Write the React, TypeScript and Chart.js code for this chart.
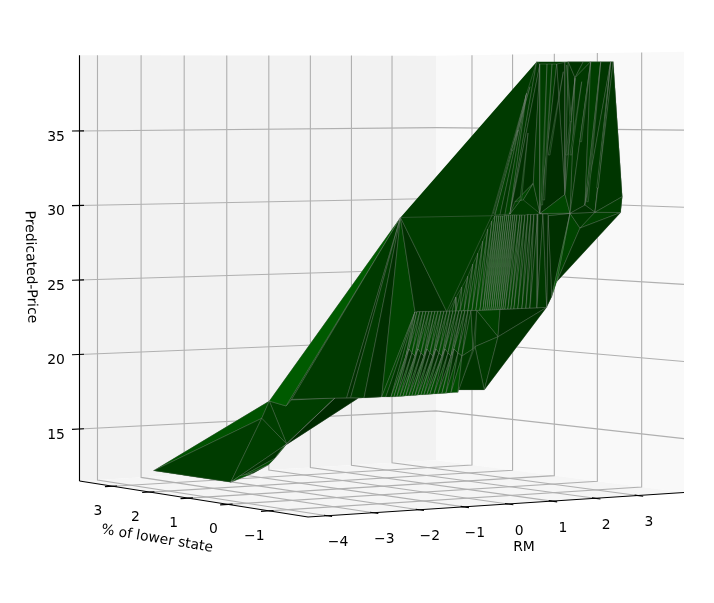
import React, { useEffect, useRef } from "react";
import { Chart, registerables } from "chart.js";
Chart.register(...registerables);

const W = 714, H = 603;
const rmLimits = [-4.409, 4.097];
const lstatLimits = [-1.928, 3.911];
const priceLimits = [11.51, 40.08];
const rmTicks = [-4, -3, -2, -1, 0, 1, 2, 3];
const lstatTicks = [-1, 0, 1, 2, 3];
const priceTicks = [15, 20, 25, 30, 35];

const rmValues = [
  -3.183,-1.786,-1.879,-1.591,-1.524,-1.024,-0.894,-0.849,-0.759,-0.693,-0.503,-0.456,-2.245,-1.584,
  -1.626,-1.718,-1.800,-1.974,-2.129,1.164,1.199,1.368,1.540,1.616,1.965,2.138,2.372,2.607,
  2.668,1.772,1.056,-0.290,0.694,0.730,0.775,0.829,0.884,0.939,1.018,1.126,1.199,1.540,
  1.656,2.005,2.238,2.842,2.880,1.281,1.888,1.368,1.315,-0.129,0.212,1.261,0.538,0.775,
  0.759,0.518,0.613,0.341,0.235,0.308,0.377,0.446,0.492,0.548,0.603,0.658,0.701,0.730,
  0.746,0.772,0.788,0.813,0.829,0.855,0.871,0.897,0.913,0.939,0.954,0.993,1.009,1.037,
  1.076,1.104,1.132,1.173,1.227,1.281,0.235,0.275,0.308,0.351,0.394,0.446,0.489,0.531,
  0.564,0.603,0.619,0.645,0.661,0.688,0.704,0.730,0.746,0.772,0.788,0.813,0.829,0.868,
  0.897,0.926,0.967,1.009,1.050,1.091,1.161,1.261,-0.112,-0.072,-0.042,-0.011,0.019,0.059,
  0.089,0.119,0.149,0.189,0.219,0.249,0.278,0.308,0.348,0.377,0.407,0.446,0.476,0.538,
  -0.231,-0.200,-0.160,-0.129,-0.099,-0.068,-0.038,0.002,0.032,0.062,0.092,0.132,0.162,0.192,
  0.232,0.262,0.292,0.334,0.377,0.492,-0.394,-0.363,-0.332,-0.292,-0.261,-0.231,-0.200,-0.160,
  -0.129,-0.099,-0.068,-0.038,0.002,0.032,0.076,0.119,0.162,0.205,0.262,0.334,1.500,1.277,
  1.294,1.772,1.563,1.600,1.928,1.656,1.693,2.138,1.888,1.925,2.372,2.044,2.082,2.607,
  2.278,2.316,1.579,1.656,1.693,1.091,0.710,0.727,1.076,0.993,0.999,0.967,0.903,0.920,
  1.268,1.202,1.218,1.311,1.227,1.244,
];
const lstatValues = [
  3.36,1.91,2.00,1.70,1.63,1.09,0.94,0.89,0.80,0.73,0.50,0.45,2.39,1.69,
  1.73,1.84,1.92,2.11,2.28,-1.43,-1.47,-1.68,-1.70,-1.70,-1.70,-1.70,-1.70,-1.70,
  -1.70,-1.70,-1.31,0.27,-0.87,-0.91,-0.98,-1.04,-1.10,-1.16,-1.27,-1.39,-1.47,-1.70,
  -1.70,-1.70,-1.70,-1.70,-1.70,-1.57,-1.70,-1.68,-1.62,0.09,-0.31,-1.56,-0.68,-0.98,
  -0.95,-0.66,-0.78,-0.45,-0.34,-0.43,-0.50,-0.57,-0.64,-0.70,-0.76,-0.82,-0.87,-0.91,
  -0.94,-0.96,-0.99,-1.01,-1.04,-1.06,-1.09,-1.11,-1.14,-1.16,-1.19,-1.22,-1.25,-1.29,
  -1.32,-1.36,-1.40,-1.45,-1.51,-1.57,-0.34,-0.37,-0.43,-0.48,-0.53,-0.57,-0.62,-0.67,
  -0.73,-0.76,-0.79,-0.81,-0.84,-0.86,-0.89,-0.91,-0.94,-0.96,-0.99,-1.01,-1.04,-1.07,
  -1.11,-1.15,-1.20,-1.25,-1.30,-1.35,-1.44,-1.56,0.06,0.03,-0.01,-0.05,-0.09,-0.12,
  -0.16,-0.20,-0.24,-0.27,-0.31,-0.35,-0.39,-0.43,-0.46,-0.50,-0.54,-0.57,-0.61,-0.68,
  0.20,0.16,0.13,0.09,0.05,0.01,-0.03,-0.06,-0.10,-0.14,-0.18,-0.21,-0.25,-0.29,
  -0.32,-0.36,-0.40,-0.45,-0.50,-0.64,0.39,0.35,0.31,0.28,0.24,0.20,0.16,0.13,
  0.09,0.05,0.01,-0.03,-0.06,-0.10,-0.15,-0.20,-0.25,-0.30,-0.36,-0.45,-1.70,-1.58,
  -1.60,-1.70,-1.70,-1.70,-1.70,-1.70,-1.70,-1.70,-1.70,-1.70,-1.70,-1.70,-1.70,-1.70,
  -1.70,-1.70,-1.70,-1.70,-1.70,-1.35,-0.89,-0.91,-1.32,-1.22,-1.25,-1.20,-1.12,-1.14,
  -1.56,-1.49,-1.51,-1.63,-1.51,-1.53,
];
const priceValues = [
  12.20,17.11,15.95,16.82,17.27,17.45,17.49,17.52,17.48,17.51,17.62,17.62,
  11.63,14.31,14.12,13.33,12.87,12.28,12.09,39.45,39.30,39.29,39.40,39.44,
  39.44,39.44,39.44,39.44,39.44,38.41,37.43,29.36,29.54,29.59,29.60,29.63,
  29.67,30.46,30.58,31.65,29.72,30.95,29.73,30.24,29.76,29.71,30.73,29.59,
  28.77,25.37,24.41,23.22,23.29,23.72,23.41,23.51,21.75,21.07,18.29,18.23,
  23.34,24.25,24.91,25.62,26.41,27.12,27.90,28.68,29.20,29.53,29.53,29.53,
  29.53,29.53,29.57,29.57,29.60,29.60,29.61,29.61,29.61,29.61,29.61,29.61,
  29.65,29.65,29.65,29.69,29.69,29.70,23.29,23.30,23.32,23.34,23.36,23.37,
  23.39,23.41,23.43,23.44,23.45,23.46,23.47,23.47,23.49,23.49,23.50,23.51,
  23.52,23.53,23.54,23.55,23.56,23.58,23.60,23.61,23.63,23.65,23.68,23.72,
  23.24,23.25,23.26,23.27,23.27,23.28,23.29,23.30,23.31,23.31,23.32,23.33,
  23.34,23.35,23.36,23.37,23.38,23.38,23.39,23.41,20.34,20.80,20.54,20.35,
  20.82,20.56,20.37,20.83,20.58,20.39,20.85,20.59,20.40,20.87,20.61,20.42,
  20.88,20.63,20.44,20.92,17.63,17.65,17.68,17.69,17.71,17.74,17.76,17.77,
  17.79,17.82,17.84,17.86,17.88,17.90,17.92,17.95,17.98,18.00,18.04,18.08,
  38.80,33.47,33.47,38.38,33.47,33.47,38.16,33.47,33.46,39.40,34.31,34.31,
  39.40,30.45,30.45,39.40,31.32,31.32,39.23,35.60,35.60,37.85,29.70,29.70,
  34.88,30.57,30.58,35.07,33.78,33.78,39.30,30.27,30.27,39.30,30.59,30.59,
];

const namedVertices = ["T0","T1","v1","s1","p1","q1","q2","q3","r1","r2","r3","r4","n1","d1","e4","e5","e1","e2","e3",
  "t0","t1","t2","t3","t4","t5","t6","t7","t8","t9","m0","u0",
  "a0","a1","a2","a3","a4","a5","a6","a7","a8","a9","a10","a11","a12","a13","a14","a15","a16","c1","g1","g2",
  "b0","b1","bE","f1","f2","f3","f4","f5","f6"];
const upperCount = 30, lowCount = 20, sliverCount = 12;
const vertexIds: string[] = [...namedVertices];
["UT","UB"].forEach(p => { for (let i = 0; i < upperCount; i++) vertexIds.push(p + i); });
["LT","LM","LB"].forEach(p => { for (let i = 0; i < lowCount; i++) vertexIds.push(p + i); });
for (let i = 0; i < sliverCount; i++) vertexIds.push("ST" + i, "SB" + i, "SC" + i);

const upperGreens = [0x3c,0x3a,0x40,0x3c,0x44,0x3e,0x46,0x3c,0x44,0x40,0x4a,0x3e,0x48,0x42,0x4c,0x3c,0x48,0x42,0x4e,0x40,0x4a,0x42,0x4e,0x3e,0x4a,0x44,0x50,0x40,0x4c,0x42,0x4e,0x3e,0x48,0x40,0x4c,0x3c,0x46,0x3e,0x48,0x3a,0x44,0x3c,0x46,0x3a,0x42,0x38,0x44,0x36,0x40,0x36,0x3e,0x34,0x3c,0x34,0x3a,0x30,0x38,0x30];
const lowGreens1 = [0x46,0x40,0x4a,0x3a,0x4c,0x42,0x4a,0x3c,0x4c,0x40,0x48,0x3c,0x4a,0x42,0x48,0x3e,0x46,0x40,0x48,0x3a,0x46,0x3e,0x48,0x38,0x46,0x3e,0x44,0x3a,0x44,0x38,0x42,0x3a,0x44,0x36,0x42,0x38,0x40,0x34];
const lowGreens2 = [0x50,0x30,0x4c,0x2e,0x54,0x34,0x4e,0x30,0x56,0x32,0x4c,0x2e,0x52,0x34,0x4e,0x2e,0x52,0x30,0x4c,0x2e,0x54,0x30,0x4e,0x34,0x52,0x2e,0x4c,0x32,0x4e,0x2e,0x4c,0x30,0x50,0x32,0x4c,0x36,0x4e,0x38];
const sliverGreens = [0x3c,0x3a,0x3c,0x3e,0x3c,0x3c,0x3a,0x3c,0x40,0x40,0x3e,0x3a];

const faces: [string, string, string, number][] = [
  ["T0","T1","v1",0x52],["T0","v1","n1",0x3c],
  ["T1","p1","q1",0x3e],["T1","q1","d1",0x3e],["T1","d1","v1",0x3e],["v1","d1","n1",0x3e],
  ["n1","d1","e5",0x34],["n1","e5","e1",0x4a],["n1","e1","e2",0x38],["n1","e2","e3",0x50],
  ["q1","r1","e4",0x2a],["q1","e4","d1",0x32],["d1","e4","e5",0x55],
  ["T1","s1","p1",0x40],
  ["a0","s1","p1",0x3c],["T1","s1","a0",0x5a],["a0","p1","q2",0x3a],["a0","q2","q3",0x30],["a0","q3","r2",0x3a],["a0","r2","r3",0x2f],
  ["a0","r3","b0",0x44],["r3","b0","r4",0x46],["r4","b0","LB0",0x38],
  ["b0","LM0","LB0",0x42],["b0","LT0","LM0",0x40],
  ["a0","b0","b1",0x30],["a0","b1","a1",0x3d],
  ["f1","f2","f3",0x40],["f1","f3","f4",0x38],["f4","f3","f5",0x3a],["f4","f5","f6",0x34],["f2","bE","f3",0x2e],["f3","bE","f5",0x32],
  ["a16","a11","g2",0x30],["a16","g2","bE",0x2f],["a11","c1","g1",0x44],["a11","g1","g2",0x5a],["a11","a13","c1",0x38],["a13","a14","c1",0x40],["c1","a14","g1",0x32],
  ["a1","u0","a2",0x38],["a2","u0","a3",0x40],["a3","u0","a4",0x38],["a4","u0","a5",0x42],["u0","t0","a5",0x3a],["t0","t1","a5",0x36],
  ["a5","t1","a8",0x30],["a5","a8","a6",0x40],["a6","a8","a7",0x46],["a7","a8","a9",0x38],["a8","t1","a9",0x3a],["t1","t2","a9",0x3e],
  ["t2","t3","a10",0x30],["t2","a10","a9",0x2e],["a9","a10","a11",0x46],["a9","a11","a16",0x3e],["t3","t4","a10",0x3a],["t4","m0","a10",0x34],["t4","t5","m0",0x34],
  ["t5","t6","m0",0x3c],["m0","t6","a11",0x38],["a10","m0","a11",0x3a],["t6","a12","a11",0x34],["t6","t7","a12",0x3e],["t7","t8","a12",0x36],
  ["t8","a13","a12",0x38],["t8","t9","a13",0x34],["t9","a15","a13",0x36],["a15","a14","a13",0x3c],["a11","a12","a13",0x30],
];
for (let i = 0; i < upperCount - 1; i++) {
  faces.push(["UT"+i,"UB"+i,"UB"+(i+1),upperGreens[2*i]]);
  faces.push(["UT"+i,"UB"+(i+1),"UT"+(i+1),upperGreens[2*i+1]]);
}
for (let i = 0; i < lowCount - 1; i++) {
  faces.push(["LT"+i,"LM"+i,"LM"+(i+1),lowGreens1[2*i]]);
  faces.push(["LT"+i,"LM"+(i+1),"LT"+(i+1),lowGreens1[2*i+1]]);
  faces.push(["LM"+i,"LB"+i,"LB"+(i+1),lowGreens2[2*i]]);
  faces.push(["LM"+i,"LB"+(i+1),"LM"+(i+1),lowGreens2[2*i+1]]);
}
for (let i = 0; i < sliverCount; i++) faces.push(["ST"+i,"SB"+i,"SC"+i,sliverGreens[i]]);
const outline = ["T0","T1","a0","t0","t9","a15","a14","g1","g2","bE","f5","f6","LB18","LB0","r3","r1","e4","e5","e1","e2","e3","n1"];

function project(rm: number, l: number, p: number) {
  const a = (rm - rmLimits[0]) / (rmLimits[1] - rmLimits[0]);
  const b = (l - lstatLimits[0]) / (lstatLimits[1] - lstatLimits[0]);
  const c = (p - priceLimits[0]) / (priceLimits[1] - priceLimits[0]);
  const w = 1 + 0.05725 * a + 0.09452 * b;
  return {
    x: (308 + 415.16 * a - 220.99 * b) / w,
    y: (517 + 3.7 * a + 9.46 * b - 466 * c) / w,
  };
}

export default function App() {
  const ref = useRef<HTMLCanvasElement>(null);
  useEffect(() => {
    const [r0, r1] = rmLimits, [l0, l1] = lstatLimits, [p0, p1] = priceLimits;
    const ds: any[] = [];
    const poly = (pts: any[], bg: string) => ds.push({ data: [...pts, pts[0]], showLine: true, fill: "shape", backgroundColor: bg, borderWidth: 0, borderColor: bg, pointRadius: 0, clip: false });
    const line = (pts: any[], color: string, width: number) => ds.push({ data: pts, showLine: true, fill: false, borderColor: color, borderWidth: width, pointRadius: 0, clip: false });
    poly([project(r0,l1,p0),project(r1,l1,p0),project(r1,l1,p1),project(r0,l1,p1)],"#f2f2f2");
    poly([project(r1,l1,p0),project(r1,l0,p0),project(r1,l0,p1),project(r1,l1,p1)],"#f9f9f9");
    poly([project(r0,l0,p0),project(r1,l0,p0),project(r1,l1,p0),project(r0,l1,p0)],"#f5f5f5");
    rmTicks.forEach(t => line([project(t,l0,p0),project(t,l1,p0),project(t,l1,p1)],"#b0b0b0",1.11));
    lstatTicks.forEach(t => line([project(r0,t,p0),project(r1,t,p0),project(r1,t,p1)],"#b0b0b0",1.11));
    priceTicks.forEach(t => line([project(r0,l1,t),project(r1,l1,t),project(r1,l0,t)],"#b0b0b0",1.11));
    line([project(r0,l1,p0),project(r0,l0,p0),project(r1,l0,p0)],"#000",1.11);
    line([project(r0,l1,p0),project(r0,l1,p1)],"#000",1.11);
    const dr = r1 - r0, dl = l1 - l0;
    rmTicks.forEach(t => line([project(t,l0-0.02*dl,p0),project(t,l0+0.012*dl,p0)],"#000",1.11));
    lstatTicks.forEach(t => line([project(r0-0.02*dr,t,p0),project(r0+0.012*dr,t,p0)],"#000",1.11));
    priceTicks.forEach(t => line([project(r0-0.02*dr,l1,t),project(r0+0.012*dr,l1,t)],"#000",1.11));
    const index = new Map(vertexIds.map((id, i) => [id, i] as [string, number]));
    const pt = (n: string) => { const i = index.get(n)!; return project(rmValues[i], lstatValues[i], priceValues[i]); };
    poly(outline.map(pt),"rgb(0,58,0)");
    faces.forEach(([a,b,c,g]) => {
      ds.push({ data: [pt(a),pt(b),pt(c),pt(a)], showLine: true, fill: "shape", backgroundColor: `rgb(0,${g},0)`, borderColor: "rgb(150,150,150)", borderWidth: 0.28, pointRadius: 0, clip: false });
    });
    ds.forEach((d, i) => (d.order = ds.length - i));
    const labels = {
      id: "labels",
      afterDraw(chart: any) {
        const { ctx, scales } = chart;
        const sx = (v: number) => scales.x.getPixelForValue(v), sy = (v: number) => scales.y.getPixelForValue(v);
        const fmt = (t: number) => String(t).replace("-", "\u2212");
        ctx.save();
        ctx.fillStyle = "#000";
        ctx.font = "13.9px 'DejaVu Sans'";
        ctx.textAlign = "center";
        ctx.textBaseline = "middle";
        rmTicks.forEach(t => { const q = project(t,l0,p0); ctx.fillText(fmt(t), sx(q.x+11), sy(q.y+27)); });
        lstatTicks.forEach(t => { const q = project(r0,t,p0); ctx.fillText(fmt(t), sx(q.x-14.5), sy(q.y+25.5)); });
        priceTicks.forEach(t => { const q = project(r0,l1,t); ctx.fillText(fmt(t), sx(q.x-23.5), sy(q.y+6)); });
        const rot = (s: string, x: number, y: number, deg: number) => { ctx.save(); ctx.translate(sx(x), sy(y)); ctx.rotate(deg*Math.PI/180); ctx.fillText(s,0,0); ctx.restore(); };
        rot("RM",524,547,0);
        rot("% of lower state",157,539,9.5);
        rot("Predicated-Price",30.5,267,88.5);
        ctx.restore();
      },
    };
    const chart = new Chart(ref.current!, {
      type: "scatter",
      data: { datasets: ds },
      options: {
        animation: false, responsive: false,
        layout: { padding: 0 },
        plugins: { legend: { display: false }, tooltip: { enabled: false } },
        scales: { x: { type: "linear", display: false, min: 0, max: W }, y: { type: "linear", display: false, min: 0, max: H, reverse: true } },
      },
      plugins: [labels],
    } as any);
    return () => chart.destroy();
  }, []);
  return <div style={{ position: "absolute", left: 0, top: 0 }}><canvas ref={ref} width={W} height={H} style={{ display: "block" }} /></div>;
}
